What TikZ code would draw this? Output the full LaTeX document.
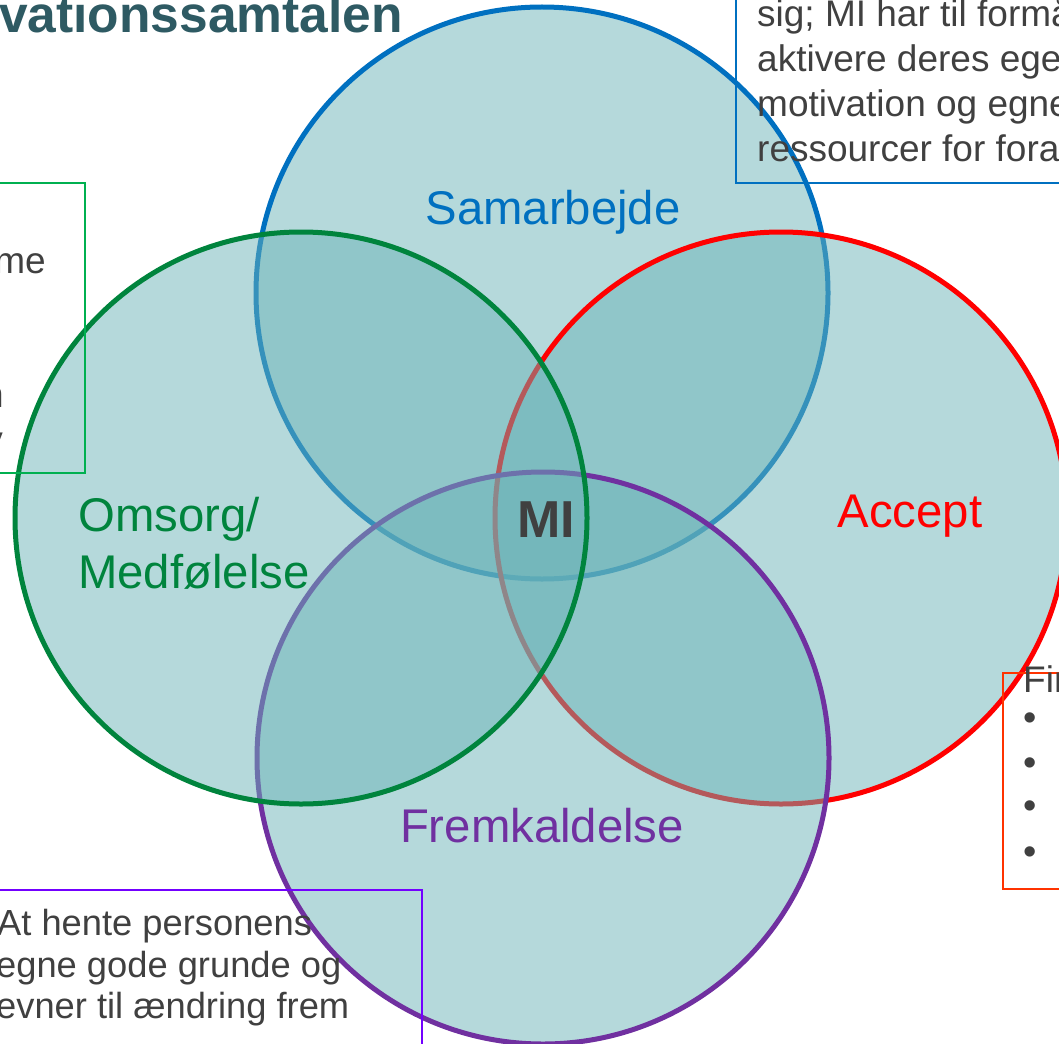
\documentclass[tikz,border=0pt]{standalone}
\usepackage{fontspec}
\setmainfont{Liberation Sans}
\definecolor{vennfill}{RGB}{107,179,183}
\definecolor{cblue}{RGB}{0,112,192}
\definecolor{cred}{RGB}{255,0,0}
\definecolor{cpurple}{RGB}{112,48,160}
\definecolor{cgreen}{RGB}{0,132,61}
\definecolor{txtgrey}{RGB}{64,64,64}
\definecolor{titlecol}{RGB}{46,90,99}
\definecolor{boxgreen}{RGB}{0,176,80}
\definecolor{boxred}{RGB}{255,51,0}
\definecolor{boxpurple}{RGB}{115,0,255}
\begin{document}
\begin{tikzpicture}[x=1pt,y=-1pt,
  venn/.style={circle, minimum size=572pt, inner sep=0pt, outer sep=0pt, line width=5pt, fill=vennfill, fill opacity=0.5, draw opacity=1},
  boxtxt/.style={font=\fontsize{37}{44}\selectfont, text=txtgrey, inner sep=0pt, anchor=base west},
  lbl/.style={font=\fontsize{47.3}{56}\selectfont, inner sep=0pt, anchor=base},
  bul/.style={font=\fontsize{38}{44}\selectfont, text=txtgrey, inner sep=0pt},
  infobox/.style={line width=1.5pt}]
\useasboundingbox (0,0) rectangle (1059,1043);
\clip (0,0) rectangle (1059,1043);
% circles
\node[venn, draw=cblue] (cSam) at (542,293) {};
\node[venn, draw=cred] (cAcc) at (781,518) {};
\node[venn, draw=cpurple] (cFrem) at (543,758) {};
\node[venn, draw=cgreen] (cOms) at (301,518) {};
% labels
\node[lbl, text=cblue] (lSam) at (553,224) {Samarbejde};
\node[lbl, text=cred] (lAcc) at (910,527) {Accept};
\node[lbl, text=cpurple] (lFrem) at (542,842) {Fremkaldelse};
\node[lbl, text=cgreen, anchor=base west] (lOmsA) at (78,531) {Omsorg/};
\node[lbl, text=cgreen, anchor=base west] (lOmsB) at (78,588) {Medfølelse};
\node[font=\fontsize{52}{60}\selectfont\bfseries, text=txtgrey, inner sep=0pt, anchor=base] (lMI) at (546,537) {MI};
% title
\node[font=\fontsize{51.5}{60}\selectfont\bfseries, text=titlecol, inner sep=0pt, anchor=base west] (title) at (-1,33) {vationssamtalen};
% green box
\draw[infobox, boxgreen] (-5,183) rectangle (85,473);
\node[boxtxt, anchor=base east] (g1) at (46,273) {me};
\node[boxtxt, anchor=base east] (g2) at (4,407) {n};
\node[boxtxt, anchor=base east] (g3) at (3,452) {y};
% blue box
\draw[infobox, cblue] (736,-5) rectangle (1070,183);
\node[boxtxt] (b1) at (757,27) {sig; MI har til formål};
\node[boxtxt] (b2) at (757,72) {aktivere deres egen};
\node[boxtxt] (b3) at (757,117) {motivation og egne};
\node[boxtxt] (b4) at (757,162) {ressourcer for forandring};
% red box
\draw[infobox, boxred] (1003,673) rectangle (1070,889);
\node[boxtxt] (r1) at (1023,692) {Fir};
\node[bul] (r2) at (1030,722) {•};
\node[bul] (r3) at (1030,767) {•};
\node[bul] (r4) at (1030,810) {•};
\node[bul] (r5) at (1030,856) {•};
% purple box
\draw[infobox, boxpurple] (-5,890) rectangle (422,1050);
\node[boxtxt, font=\fontsize{36.3}{41}\selectfont] (p1) at (-3,935) {At hente personens};
\node[boxtxt, font=\fontsize{36.3}{41}\selectfont] (p2) at (-4,977) {egne gode grunde og};
\node[boxtxt, font=\fontsize{36.3}{41}\selectfont] (p3) at (-4,1018) {evner til ændring frem};
\end{tikzpicture}
\end{document}
